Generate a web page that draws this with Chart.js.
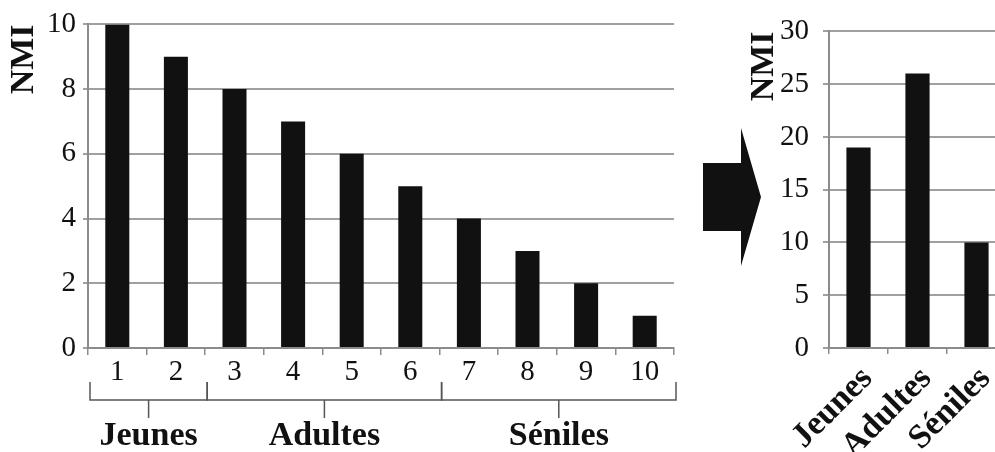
<!DOCTYPE html>
<html><head><meta charset="utf-8">
<script src="https://cdn.jsdelivr.net/npm/chart.js@4.4.1/dist/chart.umd.min.js"></script>
<style>
html,body{margin:0;padding:0;width:995px;height:452px;overflow:hidden;background:#fff}
#wrap{position:relative;width:995px;height:452px;overflow:hidden}
#left{position:absolute;left:0;top:0}
#right{position:absolute;left:740px;top:0}
#arrow{position:absolute;left:703px;top:128px;width:58px;height:138px;background:#111;
clip-path:polygon(0px 35px,38px 35px,38px 0px,58px 69px,38px 138px,38px 103px,0px 103px);z-index:2}
</style></head>
<body><div id="wrap">
<canvas id="left" width="700" height="452"></canvas>
<canvas id="right" width="300" height="452"></canvas>
<div id="arrow"></div>
</div>
<script>
// ---- data ----
const classes = ['1','2','3','4','5','6','7','8','9','10'];
const nmiValues = [10,9,8,7,6,5,4,3,2,1];
const groups = ['Jeunes','Adultes','Séniles'];
const groupStart = [0,2,6];
const groupEnd = [1,5,9];
const groupTotals = [19,26,10];
const yTitle = 'NMI';

const SERIF = "'Liberation Serif','Times New Roman',serif";
const GRID = '#a0a0a0';
const AXIS = '#8c8c8c';
const INK = '#111111';

const bracketPlugin = {
  id:'brackets',
  afterDraw(chart){
    const xs = chart.scales.x;
    const ctx = chart.ctx;
    const half = (xs.getPixelForValue(1) - xs.getPixelForValue(0)) / 2;
    ctx.save();
    ctx.strokeStyle = '#555';
    ctx.lineWidth = 1.5;
    groups.forEach((g,i)=>{
      const x0 = xs.getPixelForValue(groupStart[i]) - half + 2;
      const x1 = xs.getPixelForValue(groupEnd[i]) + half + 2;
      const xm = (x0 + x1) / 2;
      ctx.beginPath();
      ctx.moveTo(x0, 382); ctx.lineTo(x0, 400); ctx.lineTo(x1, 400); ctx.lineTo(x1, 382);
      ctx.moveTo(xm, 400); ctx.lineTo(xm, 418);
      ctx.stroke();
      ctx.fillStyle = INK;
      ctx.font = "bold 34px " + SERIF;
      ctx.textAlign = 'center';
      ctx.textBaseline = 'alphabetic';
      ctx.fillText(g, xm, 445);
    });
    ctx.restore();
  }
};

const titleOpts = {display:true, text:yTitle, align:'end', color:INK,
  font:{family:SERIF, size:34, weight:'bold'}, padding:{top:4,bottom:0}};

new Chart(document.getElementById('left'), {
  type:'bar',
  data:{labels:classes, datasets:[{data:nmiValues, backgroundColor:INK, barPercentage:0.41, categoryPercentage:1}]},
  options:{
    responsive:false, animation:false, events:[],
    layout:{padding:{top:21,right:26,bottom:0,left:0}},
    plugins:{legend:{display:false}, tooltip:{enabled:false}},
    scales:{
      x:{
        grid:{display:true, drawOnChartArea:false, tickLength:7, color:AXIS, lineWidth:1.5, offset:true},
        border:{color:AXIS, width:2},
        ticks:{font:{family:SERIF, size:29}, color:INK, padding:0, maxRotation:0, minRotation:0},
        afterFit:s=>{s.height=104;}
      },
      y:{
        min:0, max:10,
        ticks:{stepSize:2, font:{family:SERIF, size:29}, color:INK, padding:7},
        grid:{color:GRID, lineWidth:2, tickLength:5},
        border:{color:AXIS, width:2},
        title:titleOpts,
        afterFit:s=>{s.width=88;}
      }
    }
  },
  plugins:[bracketPlugin]
});

new Chart(document.getElementById('right'), {
  type:'bar',
  data:{labels:groups, datasets:[{data:groupTotals, backgroundColor:INK, barPercentage:0.41, categoryPercentage:1}]},
  options:{
    responsive:false, animation:false, events:[],
    layout:{padding:{top:21,right:34,bottom:0,left:0}},
    plugins:{legend:{display:false}, tooltip:{enabled:false}},
    scales:{
      x:{
        grid:{display:true, drawOnChartArea:false, tickLength:6, color:AXIS, lineWidth:1.5, offset:true},
        border:{color:AXIS, width:2},
        ticks:{font:{family:SERIF, size:34, weight:'bold'}, color:INK, padding:5, labelOffset:9, maxRotation:45, minRotation:45, autoSkip:false},
        afterFit:s=>{s.height=104;}
      },
      y:{
        min:0, max:30,
        ticks:{stepSize:5, font:{family:SERIF, size:29}, color:INK, padding:14},
        grid:{color:GRID, lineWidth:2, tickLength:6},
        border:{color:AXIS, width:2},
        title:titleOpts,
        afterFit:s=>{s.width=89;}
      }
    }
  }
});
</script>
</body></html>
